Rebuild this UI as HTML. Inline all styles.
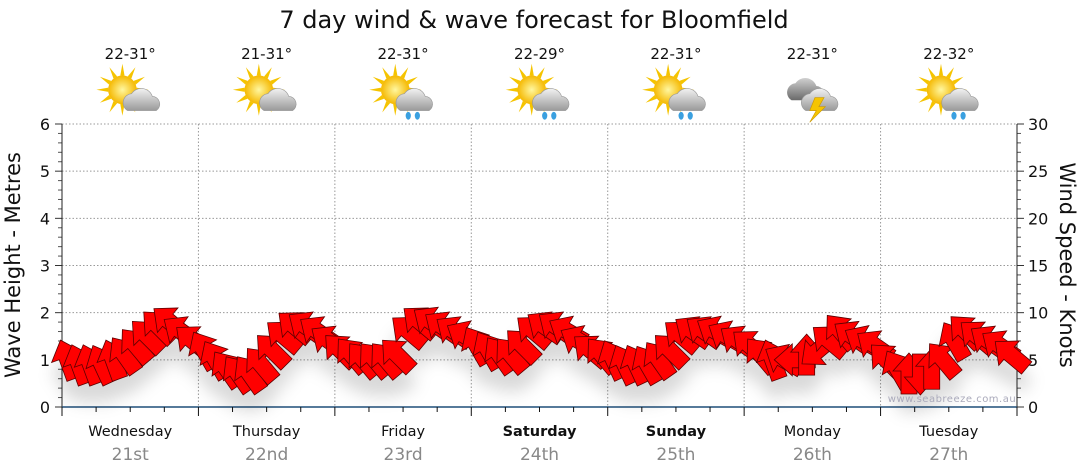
<!DOCTYPE html>
<html><head><meta charset="utf-8">
<style>
body{margin:0;background:#fff;font-family:"DejaVu Sans","Liberation Sans",sans-serif;}
svg{display:block}
</style></head>
<body>
<svg id="chart" width="1080" height="475" viewBox="0 0 1080 475" xmlns="http://www.w3.org/2000/svg">
<defs>
<filter id="sh" x="-50%" y="-50%" width="200%" height="250%">
<feDropShadow dx="0" dy="18" stdDeviation="8" flood-color="#000" flood-opacity="0.15"/>
</filter>
<radialGradient id="sun" cx="50%" cy="50%" r="50%"><stop offset="0" stop-color="#fff7a0"/><stop offset="1" stop-color="#f5b800"/></radialGradient>
<linearGradient id="cloud" x1="0" y1="0" x2="0" y2="1"><stop offset="0" stop-color="#f2f2f2"/><stop offset="1" stop-color="#9a9a9a"/></linearGradient>
<linearGradient id="dcloud" x1="0" y1="0" x2="0" y2="1"><stop offset="0" stop-color="#d0d0d0"/><stop offset="1" stop-color="#6a6a6a"/></linearGradient>
</defs>
<text x="534" y="28" text-anchor="middle" font-size="24" fill="#111">7 day wind &amp; wave forecast for Bloomfield</text>
<g id="grid"></g>
<g id="axes"></g>
<g id="icons"></g>
<g id="arrows" filter="url(#sh)"></g>
<text x="952" y="402" text-anchor="middle" font-size="10" fill="#aab" letter-spacing="0.5">www.seabreeze.com.au</text>
<text transform="translate(20,265) rotate(-90)" text-anchor="middle" font-size="21" fill="#111">Wave Height - Metres</text>
<text transform="translate(1060,265) rotate(90)" text-anchor="middle" font-size="21" fill="#111">Wind Speed - Knots</text>
</svg>
<script>
const days = ["Wednesday","Thursday","Friday","Saturday","Sunday","Monday","Tuesday"];
const dates = ["21st","22nd","23rd","24th","25th","26th","27th"];
const boldDays = [false,false,false,true,true,false,false];
const temps = ["22-31°","21-31°","22-31°","22-29°","22-31°","22-31°","22-32°"];
const icons = ["sun-cloud","sun-cloud","sun-rain","sun-rain","sun-rain","storm","sun-rain"];
const waveTicks = [0,1,2,3,4,5,6];
const windTicks = [0,5,10,15,20,25,30];
// wind speed (knots), every 2 hours, 12 per day
const windSpeed = [
5,4.5,4.5,4.5,5,5.5,6.5,7.5,8.5,9,8,7,
6,5,4,3.5,3.5,4.5,6,7.5,8.5,8.5,8,7,
6,5.5,5,5,5,5.5,8,9,9,8.5,8,7.5,
6.5,6,5.5,5.5,6.5,8,8.5,8.5,8,7,6,5.5,
5,4.5,4.5,4.5,5,6,7.5,8,8,8,7.5,7,
6.5,5.5,5,5,5,5.5,6,7,8,7.5,7,6.5,
5,4,3.5,3.5,4,5,7,8,7.5,7,6.5,5.5];
// direction arrow points to (degrees, 0 = up, negative = left)
const windDir = [
-20,-20,-20,-25,-20,-35,-40,-45,-45,-50,-55,-50,
-30,-30,-35,-35,-35,-40,-45,-50,-50,-55,-55,-55,
-45,-40,-40,-40,-40,-45,-50,-50,-55,-55,-55,-60,
-30,-30,-35,-40,-45,-50,-55,-55,-60,-60,-50,-40,
-25,-25,-25,-30,-35,-45,-50,-55,-55,-60,-60,-55,
-50,-40,-20,-60,-90,0,-130,-50,-40,-55,-60,-55,
-45,-30,0,180,0,-40,-30,-45,-50,-55,-55,-50];

const X0=62,X1=1017,Y0=407,Y1=124;
const DW=(X1-X0)/7;
const yWave=v=>Y0-(v/6)*(Y0-Y1);
const yWind=v=>Y0-(v/30)*(Y0-Y1);
const xHour=h=>X0+(h/24)*DW;
const NS="http://www.w3.org/2000/svg";
function mk(tag,attrs,parent){const e=document.createElementNS(NS,tag);for(const k in attrs)e.setAttribute(k,attrs[k]);parent.appendChild(e);return e;}
const grid=document.getElementById('grid'),axes=document.getElementById('axes'),icG=document.getElementById('icons'),arr=document.getElementById('arrows');

waveTicks.forEach(v=>{
 if(v>0){const l=mk('line',{x1:X0,x2:X1,y1:yWave(v),y2:yWave(v),stroke:'#999','stroke-dasharray':'1.5,2','stroke-width':1},grid);
 
 }
 const t=mk('text',{x:50,y:yWave(v)+6,'text-anchor':'end','font-size':16,fill:'#111'},axes);t.textContent=v;
 
 
 mk('line',{x1:X0-7,x2:X0,y1:yWave(v),y2:yWave(v),stroke:'#333'},axes);
});
for(let i=0;i<30;i++){if(i%5)mk('line',{x1:X0-4,x2:X0,y1:yWave(i/5),y2:yWave(i/5),stroke:'#555'},axes);}
windTicks.forEach(v=>{
 const t=mk('text',{x:1028,y:yWind(v)+6,'font-size':16,fill:'#111'},axes);t.textContent=v;
 
 
 mk('line',{x1:X1,x2:X1+7,y1:yWind(v),y2:yWind(v),stroke:'#333'},axes);
});
for(let i=0;i<30;i++){if(i%5)mk('line',{x1:X1,x2:X1+4,y1:yWind(i),y2:yWind(i),stroke:'#555'},axes);}
for(let d=1;d<7;d++){const l=mk('line',{x1:X0+d*DW,x2:X0+d*DW,y1:Y1,y2:Y0,stroke:'#999','stroke-dasharray':'1.5,2'},grid);
 
 }
mk('line',{x1:X0,x2:X0,y1:Y1,y2:Y0,stroke:'#222'},axes);
mk('line',{x1:X1,x2:X1,y1:Y1,y2:Y0,stroke:'#222'},axes);
const xa=mk('line',{x1:X0,x2:X1,y1:Y0,y2:Y0,stroke:'#1f4e79','stroke-width':1.5},axes);


for(let i=0;i<=28;i++){const x=X0+i*DW/4;mk('line',{x1:x,x2:x,y1:Y0,y2:Y0+(i%4?5:9),stroke:'#111'},axes);}

days.forEach((d,i)=>{
 const cx=X0+(i+0.5)*DW;
 const t=mk('text',{x:cx,y:436,'text-anchor':'middle','font-size':14.5,fill:'#111','font-weight':boldDays[i]?'bold':'normal'},axes);t.textContent=d;
 
 
 const t2=mk('text',{x:cx,y:460,'text-anchor':'middle','font-size':17,fill:'#888'},axes);t2.textContent=dates[i];
 
 
 const t3=mk('text',{x:cx,y:59,'text-anchor':'middle','font-size':15,fill:'#111'},icG);t3.textContent=temps[i];
 
 
 const g=mk('g',{transform:`translate(${cx},95) scale(1.3)`},icG);
 
 
 const type=icons[i];
 if(type!=='storm'){
  for(let k=0;k<12;k++){const a=k*30*Math.PI/180;mk('polygon',{points:`${-6+Math.cos(a)*20},${-4+Math.sin(a)*20} ${-6+Math.cos(a+0.15)*11},${-4+Math.sin(a+0.15)*11} ${-6+Math.cos(a-0.15)*11},${-4+Math.sin(a-0.15)*11}`,fill:'#f5c400'},g);}
  mk('circle',{cx:-6,cy:-4,r:11,fill:'url(#sun)'},g);
  mk('path',{d:'M-2,12 a7,7 0 0 1 3,-13 a9,9 0 0 1 16,2 a6,6 0 0 1 3,11 z',fill:'url(#cloud)',stroke:'#999','stroke-width':0.5},g);
  if(type==='sun-rain'){[4,11].forEach(x=>mk('ellipse',{cx:x,cy:16,rx:2,ry:3,fill:'#3aa0e0'},g));}
 } else {
  mk('path',{d:'M-16,4 a7,7 0 0 1 3,-13 a9,9 0 0 1 16,2 a6,6 0 0 1 3,11 z',fill:'url(#dcloud)'},g);
  mk('path',{d:'M-5,12 a7,7 0 0 1 3,-13 a9,9 0 0 1 16,2 a6,6 0 0 1 3,11 z',fill:'url(#cloud)',stroke:'#999','stroke-width':0.5},g);
  mk('polygon',{points:'2,2 9,2 5,9 10,9 -2,21 3,12 -2,12',fill:'#f5c400',stroke:'#c90','stroke-width':0.5},g);
 }
});

windSpeed.forEach((v,i)=>{
 const x=xHour(i*2+1), y=yWind(v);
 const p=mk('polygon',{points:'0,-21 16,-3 8,-3 8,20 -8,20 -8,-3 -16,-3',fill:'#ff0000',stroke:'#5a0000','stroke-width':0.8,transform:`translate(${x},${y}) rotate(${windDir[i]})`},arr);
 
 
});
</script>
</body></html>
